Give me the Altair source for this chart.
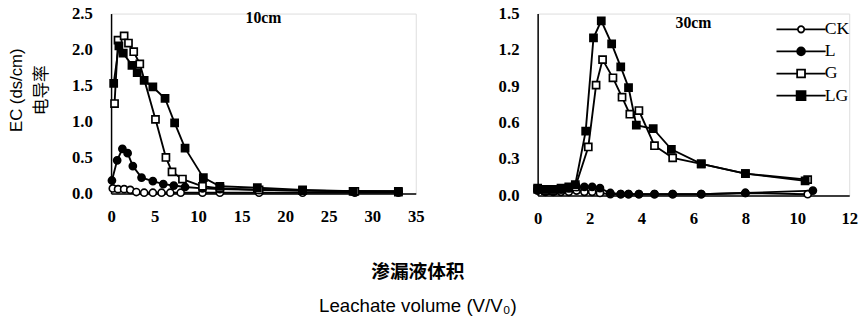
import altair as alt
import pandas as pd

SERIES = ["CK", "L", "G", "LG"]

# ---- 10 cm depth ----
CK10_V = [0.2, 0.8, 1.5, 2.2, 2.9, 3.8, 4.8, 5.8, 6.8, 8.0, 10.5, 12.5, 17.0, 22.0, 28.0, 33.0]
CK10_EC = [0.07, 0.06, 0.06, 0.05, 0.02, 0.01, 0.01, 0.01, 0.01, 0.01, 0.01, 0.01, 0.01, 0.01, 0.01, 0.01]
L10_V = [0.1, 0.7, 1.3, 1.9, 2.5, 3.5, 4.8, 6.0, 7.2, 8.5, 10.5, 12.5, 17.0, 22.0, 28.0, 33.0]
L10_EC = [0.18, 0.46, 0.62, 0.56, 0.38, 0.22, 0.17, 0.13, 0.11, 0.09, 0.07, 0.06, 0.05, 0.04, 0.03, 0.03]
G10_V = [0.4, 0.8, 1.5, 2.0, 2.6, 3.3, 5.1, 6.3, 7.0, 8.2, 10.5, 12.5, 17.0, 22.0, 28.0, 33.0]
G10_EC = [1.25, 2.13, 2.19, 2.09, 1.97, 1.80, 1.03, 0.50, 0.30, 0.20, 0.10, 0.07, 0.05, 0.04, 0.03, 0.02]
LG10_V = [0.3, 0.9, 1.4, 2.4, 3.0, 3.8, 4.8, 6.2, 7.3, 8.5, 10.6, 12.5, 16.8, 22.0, 27.8, 33.0]
LG10_EC = [1.53, 2.05, 1.95, 1.78, 1.68, 1.57, 1.48, 1.32, 0.98, 0.63, 0.22, 0.10, 0.08, 0.05, 0.03, 0.03]

# ---- 30 cm depth ----
CK30_V = [0.0, 0.3, 0.6, 0.9, 1.2, 1.5, 1.8, 2.1, 2.4, 2.8, 3.2, 3.5, 3.9, 4.5, 5.2, 6.3, 8.0, 10.4]
CK30_EC = [0.05, 0.03, 0.03, 0.03, 0.03, 0.04, 0.03, 0.03, 0.02, 0.01, 0.01, 0.01, 0.01, 0.01, 0.01, 0.01, 0.02, 0.01]
L30_V = [0.0, 0.3, 0.6, 0.9, 1.2, 1.5, 1.8, 2.1, 2.4, 2.8, 3.2, 3.5, 3.9, 4.5, 5.2, 6.3, 8.0, 10.6]
L30_EC = [0.04, 0.04, 0.04, 0.05, 0.06, 0.07, 0.07, 0.07, 0.06, 0.02, 0.01, 0.01, 0.01, 0.01, 0.01, 0.01, 0.02, 0.04]
G30_V = [0.0, 0.3, 0.6, 0.9, 1.2, 1.45, 1.95, 2.25, 2.5, 2.9, 3.25, 3.55, 3.9, 4.5, 5.2, 6.3, 8.0, 10.4]
G30_EC = [0.05, 0.04, 0.04, 0.05, 0.06, 0.07, 0.40, 0.91, 1.12, 0.97, 0.81, 0.67, 0.70, 0.41, 0.31, 0.26, 0.18, 0.13]
LG30_V = [0.0, 0.3, 0.6, 0.9, 1.2, 1.45, 1.85, 2.15, 2.45, 2.85, 3.2, 3.5, 3.8, 4.45, 5.15, 6.3, 8.0, 10.3]
LG30_EC = [0.06, 0.05, 0.05, 0.06, 0.07, 0.09, 0.53, 1.30, 1.44, 1.25, 1.06, 0.89, 0.58, 0.55, 0.38, 0.26, 0.18, 0.12]

X10_TICKS = [0, 5, 10, 15, 20, 25, 30, 35]
Y10_TICKS = [0.0, 0.5, 1.0, 1.5, 2.0, 2.5]
X30_TICKS = [0, 2, 4, 6, 8, 10, 12]
Y30_TICKS = [0.0, 0.3, 0.6, 0.9, 1.2, 1.5]


def frame(pairs):
    rows = []
    for name, vs, ecs in pairs:
        for i, (v, e) in enumerate(zip(vs, ecs)):
            rows.append({"series": name, "v": v, "ec": e, "i": i})
    return pd.DataFrame(rows)


df10 = frame([("CK", CK10_V, CK10_EC), ("L", L10_V, L10_EC), ("G", G10_V, G10_EC), ("LG", LG10_V, LG10_EC)])
df30 = frame([("CK", CK30_V, CK30_EC), ("L", L30_V, L30_EC), ("G", G30_V, G30_EC), ("LG", LG30_V, LG30_EC)])

TICK_FONT = "Liberation Serif"
SANS_CJK = "Liberation Sans, Noto Sans CJK SC"

SHAPES = ["circle", "circle", "square", "square"]
FILLS = ["white", "black", "white", "black"]
LEGEND_PATHS = [
    "M-5,0H-0.65M0.65,0H5M-0.65,0A0.65,0.65,0,1,0,0.65,0A0.65,0.65,0,1,0,-0.65,0Z",
    "M-5,0H5M-0.8,0A0.8,0.8,0,1,0,0.8,0A0.8,0.8,0,1,0,-0.8,0Z",
    "M-5,0H-0.8M0.8,0H5M-0.8,-0.8H0.8V0.8H-0.8Z",
    "M-5,0H5M-0.9,-0.9H0.9V0.9H-0.9Z",
]


def axis(values, fmt, title=None, title_y=None):
    kw = dict(values=values, format=fmt, grid=False, ticks=False, domainColor="black",
              domainWidth=1.5, labelFont=TICK_FONT, labelFontWeight="bold", labelFontSize=17,
              labelColor="black", labelPadding=19, labelFlush=False, labelOverlap=False)
    if title is not None:
        kw.update(title=title, titleFont=SANS_CJK, titleFontSize=17, titleFontWeight="normal",
                  titleColor="black", titlePadding=21, titleLineHeight=26)
        if title_y is not None:
            kw.update(titleY=title_y)
    else:
        kw.update(title=None)
    return alt.Axis(**kw)


def xaxis(values):
    return alt.Axis(values=values, format="d", grid=False, ticks=False, domainColor="black",
                    domainWidth=1.5, labelFont=TICK_FONT, labelFontWeight="bold",
                    labelFontSize=17, labelColor="black", labelPadding=16, labelFlush=False,
                    labelOverlap=False, title=None)


def panel(df, xdom, xt, ydom, yt, yfmt, label, label_dy, ytitle=None, legend=False, w=310, h=184):
    x = alt.X("v:Q", scale=alt.Scale(domain=xdom, nice=False, zero=False), axis=xaxis(xt))
    y = alt.Y("ec:Q", scale=alt.Scale(domain=ydom, nice=False),
              axis=axis(yt, yfmt, ytitle, title_y=h / 2 - 14 if ytitle else None))
    base = alt.Chart(df)
    lines = base.mark_line(color="black", strokeWidth=1.9).encode(
        x=x, y=y, detail="series:N", order="i:Q")
    pts = base.mark_point(filled=True, size=52, stroke="black", strokeWidth=1.7, opacity=1).encode(
        x=x, y=y,
        shape=alt.Shape("series:N", scale=alt.Scale(domain=SERIES, range=SHAPES), legend=None),
        fill=alt.Fill("series:N", scale=alt.Scale(domain=SERIES, range=FILLS), legend=None),
    )
    layers = [lines, pts]
    if legend:
        leg = dict(title=None, orient="none", legendX=259, legendY=7, symbolSize=100,
                   symbolStrokeWidth=1.8, symbolStrokeColor="black", symbolOpacity=1,
                   labelFont=TICK_FONT, labelFontSize=18, labelColor="black",
                   labelOffset=15, rowPadding=4.5, padding=0)
        lg = base.mark_point(filled=True, opacity=0, stroke="black").encode(
            x=x, y=y,
            shape=alt.Shape("series:N", scale=alt.Scale(domain=SERIES, range=LEGEND_PATHS),
                            legend=alt.Legend(**leg)),
            fill=alt.Fill("series:N", scale=alt.Scale(domain=SERIES, range=FILLS),
                          legend=alt.Legend(**leg)),
            stroke=alt.Stroke("series:N", scale=alt.Scale(domain=SERIES, range=["black"] * 4),
                              legend=alt.Legend(**leg)),
        )
        layers.append(lg)
    ch = alt.layer(*layers).properties(
        width=w, height=h,
        title=alt.TitleParams(text=label, orient="top", anchor="middle", frame="group",
                              offset=-10, dy=label_dy, font=TICK_FONT, fontSize=16,
                              fontWeight="bold", color="black"))
    if legend:
        ch = ch.resolve_scale(shape="independent", fill="independent", stroke="independent")
    return ch


left = panel(df10, [0, 35], X10_TICKS, [0, 2.5], Y10_TICKS, ".1f", "10cm", 12,
             ytitle=["EC (ds/cm)", "电导率"], w=310, h=183)
right = panel(df30, [0, 12], X30_TICKS, [0, 1.5], Y30_TICKS, ".1f", "30cm", 17,
              legend=True, w=317, h=185)

chart = alt.hconcat(left, right, spacing=74).properties(
    title=alt.TitleParams(text="渗漏液体积", subtitle="Leachate volume (V/V₀)",
                          orient="bottom", anchor="middle", offset=37, dx=-15,
                          font=SANS_CJK, fontSize=19, fontWeight="bold", color="black",
                          subtitleFont=SANS_CJK, subtitleFontSize=19, subtitleColor="black",
                          subtitlePadding=15),
    padding={"left": 7, "top": 1, "right": 5, "bottom": 5},
).configure_view(stroke=None).configure(background="white")

chart.save("out.html", embed_options={"renderer": "svg", "actions": False})
